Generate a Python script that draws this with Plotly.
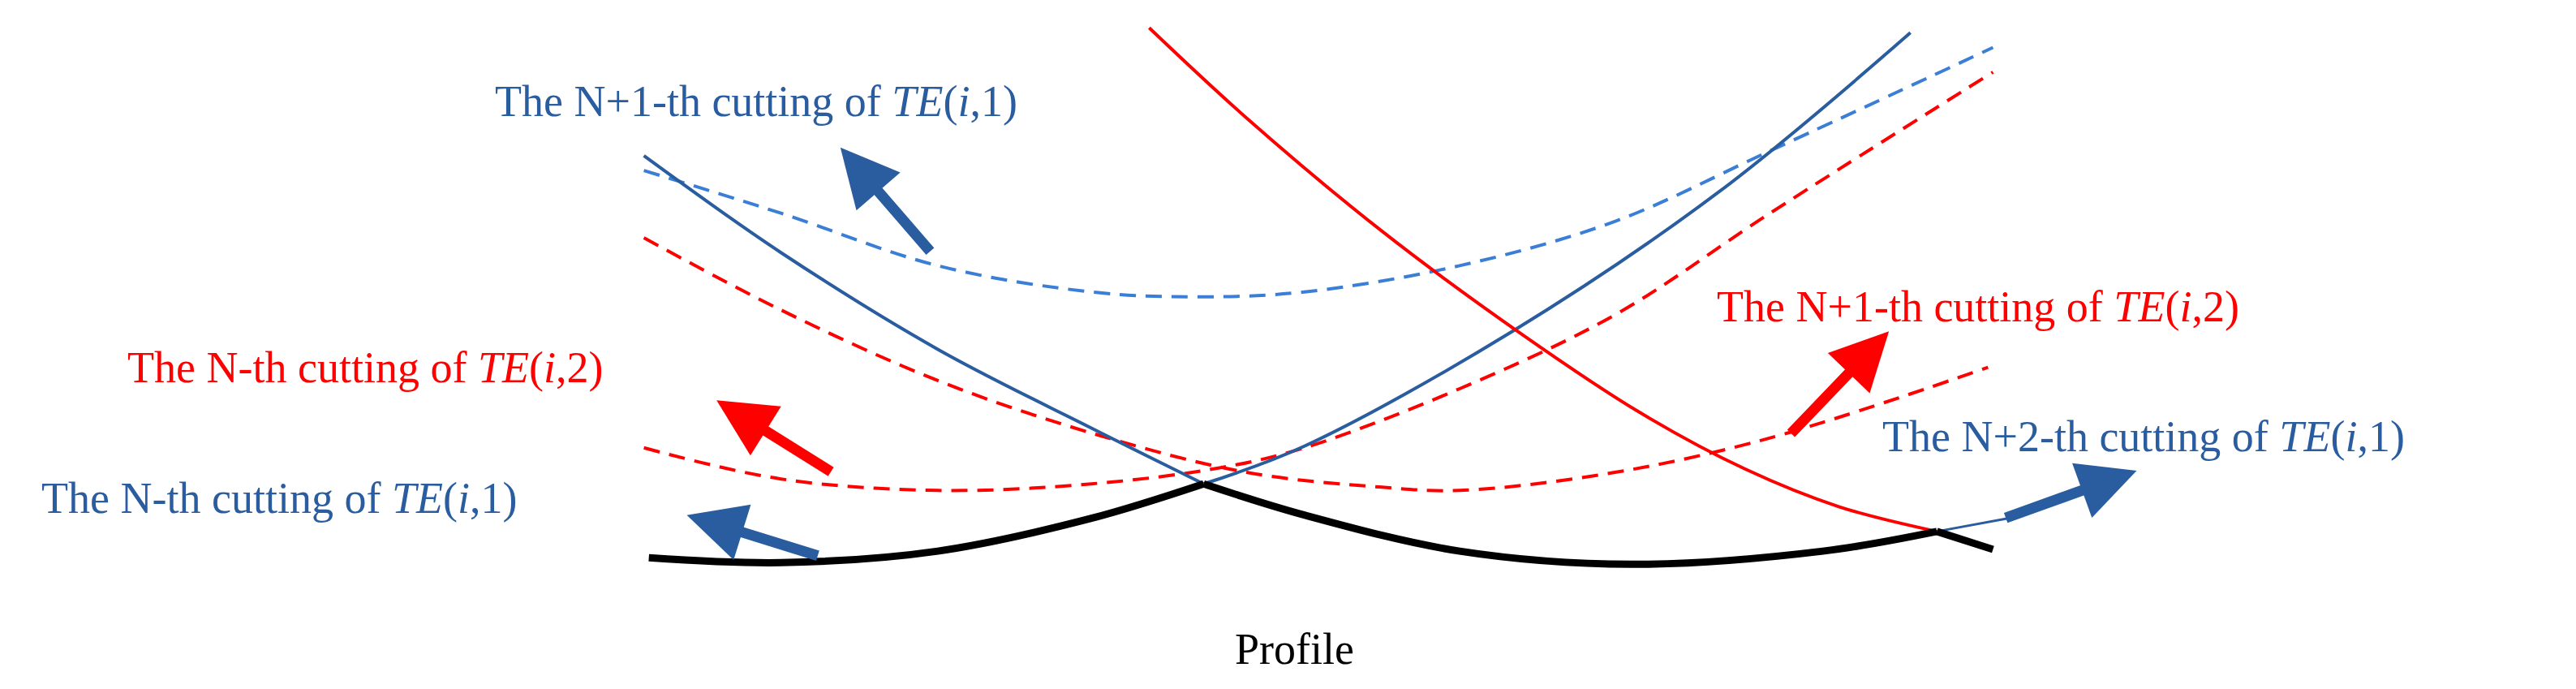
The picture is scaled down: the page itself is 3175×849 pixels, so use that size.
import plotly.graph_objects as go

# points (picture coordinates, y downward)
blue_fall_x = [386, 469, 564, 657, 725]
blue_fall_y = [91, 150, 209, 257, 291]
blue_rise_x = [725, 786, 912, 1037, 1153]
blue_rise_y = [291, 268, 198, 113, 16]
red_solid_x = [692, 751, 833, 918, 990, 1053, 1110, 1169]
red_solid_y = [13, 68, 137, 200, 248, 282, 305, 320]
black_left_x = [389, 469, 564, 657, 725]
black_left_y = [336, 339, 332, 312, 291]
black_right_x = [725, 786, 880, 984, 1100, 1169]
black_right_y = [291, 310, 332, 340, 332, 320]
black_end_x = [1169, 1203]
black_end_y = [320, 331]
blue_tail_x = [1169, 1212]
blue_tail_y = [320, 312]
blue_dash_x = [386, 469, 564, 657, 721, 786, 880, 974, 1068, 1203]
blue_dash_y = [100, 126, 158, 174, 177, 174, 158, 131, 88, 25]
red_dash1_x = [386, 469, 564, 657, 751, 833, 880, 974, 1068, 1200]
red_dash1_y = [141, 185, 228, 260, 284, 293, 295, 284, 263, 220]
red_dash2_x = [386, 469, 564, 657, 736, 786, 880, 974, 1068, 1203]
red_dash2_y = [269, 288, 295, 291, 281, 269, 233, 188, 126, 40]

BLUE = "#2a5d9f"
LBLUE = "#3a7fd5"
RED = "#ff0000"

fig = go.Figure()

def curve(x, y, color, width, dash="solid", shape="spline"):
    fig.add_trace(go.Scatter(x=x, y=y, mode="lines", line_shape=shape,
                             line=dict(color=color, width=width, dash=dash),
                             hoverinfo="skip"))

curve(blue_dash_x, blue_dash_y, LBLUE, 4, "20px,12px")
curve(red_dash1_x, red_dash1_y, RED, 4, "20px,12px")
curve(red_dash2_x, red_dash2_y, RED, 4, "20px,12px")
curve(blue_fall_x, blue_fall_y, BLUE, 4)
curve(blue_rise_x, blue_rise_y, BLUE, 4)
curve(red_solid_x, red_solid_y, RED, 4)
curve(blue_tail_x, blue_tail_y, BLUE, 3, shape="linear")
curve(black_left_x, black_left_y, "black", 9)
curve(black_right_x, black_right_y, "black", 9)
curve(black_end_x, black_end_y, "black", 9, shape="linear")

# arrows: (tail, head, colour)
arrows = [
    ((560, 150), (505, 86), BLUE),
    ((500, 284), (430, 240), RED),
    ((492, 335), (412, 310), BLUE),
    ((1080, 261), (1140, 198), RED),
    ((1210, 312), (1290, 283), BLUE),
]
for (tx, ty), (hx, hy), c in arrows:
    fig.add_annotation(x=hx, y=hy, ax=tx, ay=ty, xref="x", yref="y",
                       axref="x", ayref="y", text="", showarrow=True,
                       arrowhead=2, arrowsize=1.1, arrowwidth=13, arrowcolor=c)

labels = [
    (295, 58, "The N+1-th cutting of <i>TE</i>(<i>i</i>,1)", BLUE),
    (72, 220, "The N-th cutting of <i>TE</i>(<i>i</i>,2)", RED),
    (20, 300, "The N-th cutting of <i>TE</i>(<i>i</i>,1)", BLUE),
    (1035, 183, "The N+1-th cutting of <i>TE</i>(<i>i</i>,2)", RED),
    (1135, 262, "The N+2-th cutting of <i>TE</i>(<i>i</i>,1)", BLUE),
]
for x, y, t, c in labels:
    fig.add_annotation(x=x, y=y, text=t, showarrow=False, xanchor="left",
                       yanchor="middle", font=dict(color=c, size=54))
fig.add_annotation(x=780, y=392, text="Profile", showarrow=False,
                   font=dict(color="black", size=54))

fig.update_layout(width=3175, height=849, margin=dict(l=0, r=0, t=0, b=0),
                  plot_bgcolor="white", paper_bgcolor="white", showlegend=False,
                  font=dict(family="Liberation Serif, Times New Roman, serif"))
fig.update_xaxes(range=[0, 1560], visible=False)
fig.update_yaxes(range=[420, 0], visible=False)

fig.write_html("out.html")
